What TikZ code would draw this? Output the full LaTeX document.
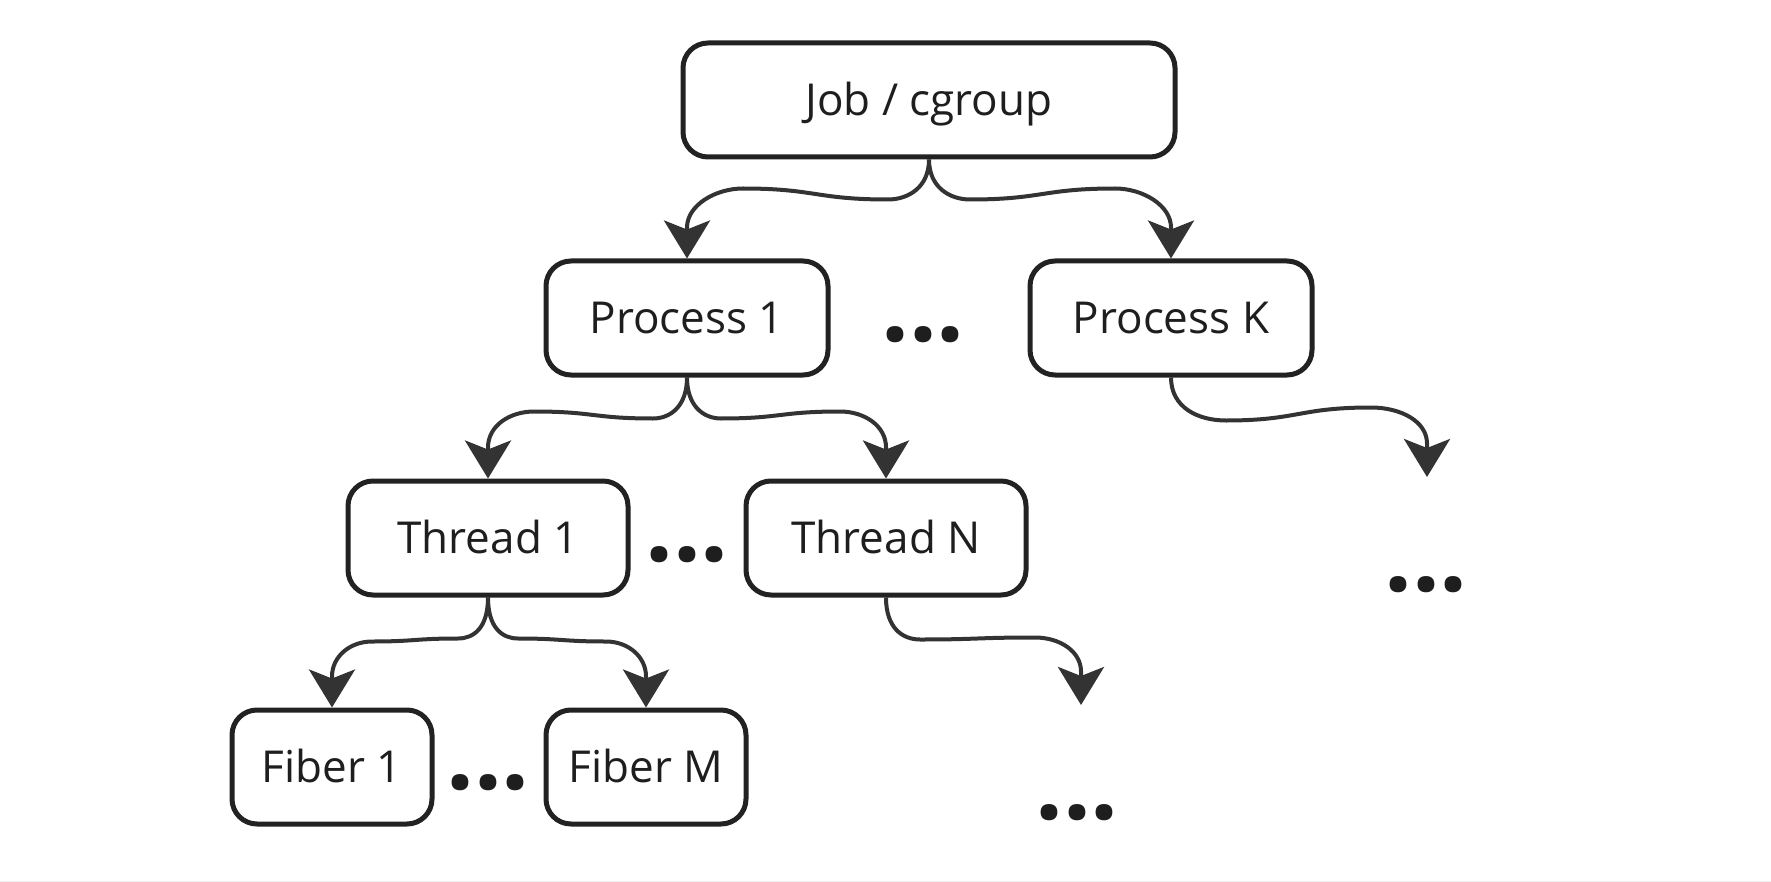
\documentclass[tikz,border=0pt]{standalone}
\usepackage{fontspec}
\setmainfont{Open Sans}
\usetikzlibrary{arrows.meta}

\definecolor{boxline}{HTML}{222222}
\definecolor{linkline}{HTML}{333333}
\definecolor{txt}{HTML}{1E1E1E}

\tikzset{
    unit/.style={draw=boxline, line width=2.5pt, rounded corners=12.5pt, fill=white,
        minimum height=57pt, inner sep=0pt, text height=15.5pt, text depth=0pt,
        text=txt, font=\fontsize{22}{26}\selectfont},
    link/.style={draw=linkline, line width=2pt,
        -{Stealth[length=19pt, width=23pt, inset=4.5pt]}},
    more/.style={text=txt, inner sep=0pt, font=\fontsize{49}{50}\selectfont\bfseries}
}

\begin{document}
\begin{tikzpicture}[x=0.5pt, y=-0.5pt]

    \useasboundingbox (0,0) rectangle (1771,882);
    \fill[black!7] (0,880.5) rectangle (1771,882);

    \node[unit, minimum width=246pt] (job) at (929,100) {Job / cgroup};
    \node[unit, minimum width=141pt] (p1) at (687,318) {Process 1};
    \node[unit, minimum width=141pt] (pk) at (1171,318) {Process K};
    \node[unit, minimum width=140pt] (t1) at (488,538) {Thread 1};
    \node[unit, minimum width=140pt] (tn) at (886,538) {Thread N};
    \node[unit, minimum width=100pt] (f1) at (332,767) {Fiber 1};
    \node[unit, minimum width=100pt] (fm) at (646,767) {Fiber M};

    \coordinate (pkend) at (1427,477);
    \coordinate (tnend) at (1081,705);

    \node[more] (pdots) at (923,335) {...};
    \node[more] (tdots) at (687,555) {...};
    \node[more] (fdots) at (488,783) {...};
    \node[more] (pkdots) at (1426,585) {...};
    \node[more] (tndots) at (1077,813) {...};

    \draw[link] (job.south) .. controls +(0,28) and +(20,0) .. ++(-41,40)
        .. controls +(-72,0) and +(72,0) .. ++(-145,-11)
        .. controls +(-28,0) and +(0,-22) .. ++(-56,39) -- (p1.north);
    \draw[link] (job.south) .. controls +(0,28) and +(-20,0) .. ++(41,40)
        .. controls +(72,0) and +(-72,0) .. ++(145,-11)
        .. controls +(28,0) and +(0,-22) .. ++(56,39) -- (pk.north);

    \draw[link] (p1.south) .. controls +(0,28) and +(18,0) .. ++(-34,41)
        .. controls +(-60,0) and +(60,0) .. ++(-119,-7)
        .. controls +(-24,0) and +(0,-22) .. ++(-46,36) -- (t1.north);
    \draw[link] (p1.south) .. controls +(0,28) and +(-18,0) .. ++(34,41)
        .. controls +(60,0) and +(-60,0) .. ++(119,-7)
        .. controls +(24,0) and +(0,-22) .. ++(46,36) -- (tn.north);
    \draw[link] (pk.south) .. controls +(0,30) and +(-28,0) .. ++(55,43)
        .. controls +(72,0) and +(-72,0) .. ++(145,-13)
        .. controls +(30,0) and +(0,-22) .. ++(56,36) -- (pkend);

    \draw[link] (t1.south) .. controls +(0,30) and +(16,0) .. ++(-30,41)
        .. controls +(-43,0) and +(43,0) .. ++(-86,3)
        .. controls +(-22,0) and +(0,-20) .. ++(-40,35) -- (f1.north);
    \draw[link] (t1.south) .. controls +(0,30) and +(-16,0) .. ++(30,41)
        .. controls +(44,0) and +(-44,0) .. ++(88,3)
        .. controls +(22,0) and +(0,-20) .. ++(40,35) -- (fm.north);
    \draw[link] (tn.south) .. controls +(0,30) and +(-18,0) .. ++(34,42)
        .. controls +(58,0) and +(-58,0) .. ++(115,-2)
        .. controls +(25,0) and +(0,-20) .. ++(46,34) -- (tnend);

\end{tikzpicture}
\end{document}
